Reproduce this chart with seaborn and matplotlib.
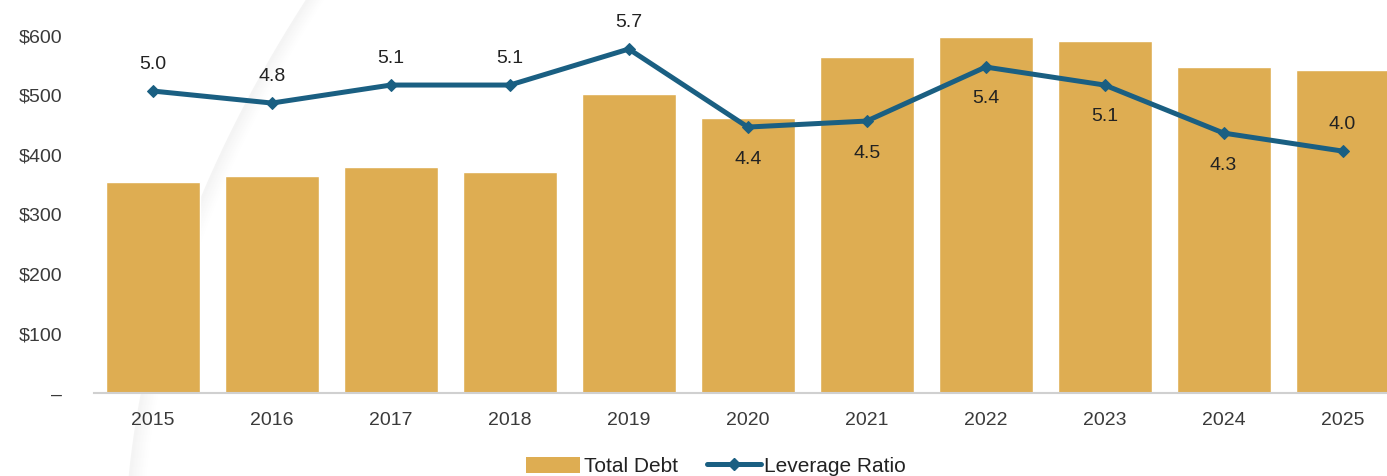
import numpy as np
import matplotlib
matplotlib.use("Agg")
import matplotlib.pyplot as plt
import seaborn as sns
from matplotlib.patches import Patch
from matplotlib.lines import Line2D

years = ["2015", "2016", "2017", "2018", "2019", "2020", "2021", "2022", "2023", "2024", "2025"]
total_debt = [355, 365, 380, 371, 502, 462, 565, 598, 592, 548, 543]
leverage = [5.0, 4.8, 5.1, 5.1, 5.7, 4.4, 4.5, 5.4, 5.1, 4.3, 4.0]
label_side = ["above", "above", "above", "above", "above", "below", "below", "below", "below", "below", "above"]
y_ticks = [0, 100, 200, 300, 400, 500, 600]
y_tick_labels = ["–", "$100", "$200", "$300", "$400", "$500", "$600"]

gold = "#DEAD52"
teal = "#1A5F82"
text_col = "#3A3A3A"

sns.set_style("white")
plt.rcParams["font.family"] = ["Liberation Sans", "DejaVu Sans"]

W, H = 1387, 476
fig = plt.figure(figsize=(W / 100, H / 100), dpi=100)

# faint decorative swoosh in the background (sharp edge, fading to the right)
yy = np.linspace(0, H, 300)
edge = 307 - 0.645 * yy + 0.000573 * yy ** 2
for off in np.arange(16, -0.1, -1.0):
    shade = 0.955 + 0.045 * (off / 16) ** 0.8
    fig.add_artist(Line2D((edge + off) / W, 1 - yy / H, transform=fig.transFigure,
                          color=(shade, shade, shade), lw=1.6, zorder=0))

ax = fig.add_axes([93.5 / W, 1 - 393 / H, (1402 - 93.5) / W, 357 / H])
ax.patch.set_alpha(0)
sns.barplot(x=years, y=total_debt, color=gold, width=0.79, saturation=1, ax=ax, zorder=2)
ax.set_ylim(0, 600)
ax.set_xlim(-0.5, len(years) - 0.5)
ax.set_yticks(y_ticks)
ax.set_yticklabels(y_tick_labels)
ax.tick_params(axis="y", length=0, pad=22.5, labelsize=14, labelcolor=text_col)
ax.tick_params(axis="x", length=0, pad=14, labelsize=14, labelcolor=text_col)
for s in ["top", "right", "left"]:
    ax.spines[s].set_visible(False)
ax.spines["bottom"].set_color("#d0d0d0")
ax.spines["bottom"].set_linewidth(1.5)
ax.set_xlabel("")
ax.set_ylabel("")

ax2 = ax.twinx()
xpos = np.arange(len(years))
sns.lineplot(x=xpos, y=leverage, color=teal, lw=3.6, marker="D", markersize=6.5,
             markeredgecolor=teal, ax=ax2, zorder=3)
ax2.set_ylim(-0.03, 5.917)
ax2.set_yticks([])
ax2.set_ylabel("")
for s in ax2.spines.values():
    s.set_visible(False)

for x, v, side in zip(xpos, leverage, label_side):
    dy = 19 if side == "above" else -23
    ax2.annotate(f"{v:.1f}", (x, v), xytext=(0, dy), textcoords="offset points",
                 ha="center", va="center", fontsize=14, color="#222222")

handles = [Patch(facecolor=gold, edgecolor="none", label="Total Debt"),
           Line2D([0], [0], color=teal, lw=3.6, marker="D", markersize=6.5, label="Leverage Ratio")]
fig.legend(handles=handles, loc="center", bbox_to_anchor=(716 / W, 0.02), ncol=2,
           frameon=False, fontsize=15, handlelength=2.6, handleheight=0.85,
           handletextpad=0.15, columnspacing=1.4, labelcolor="#222222")

fig.savefig("out.png", dpi=100)
